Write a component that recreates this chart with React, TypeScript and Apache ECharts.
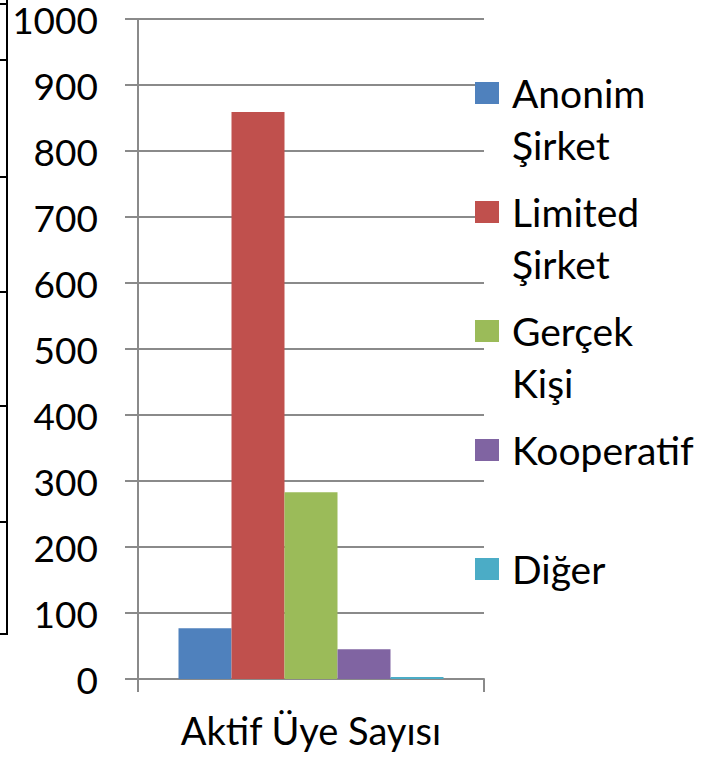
import React, { useEffect, useRef } from 'react';
import * as echarts from 'echarts';

const categories = ['Aktif Üye Sayısı'];
const seriesNames = ['Anonim Şirket', 'Limited Şirket', 'Gerçek Kişi', 'Kooperatif', 'Diğer'];
const legendLines = [['Anonim', 'Şirket'], ['Limited', 'Şirket'], ['Gerçek', 'Kişi'], ['Kooperatif'], ['Diğer']];
const seriesValues = [77, 859, 283, 45, 3];
const seriesColors = ['#4F81BD', '#C0504D', '#9BBB59', '#8064A2', '#4BACC6'];
const yMin = 0;
const yMax = 1000;
const yInterval = 100;

const FONT = 'Lato';
const GRID_COLOR = '#8a8a8a';

export default function App() {
  const ref = useRef<HTMLDivElement>(null);
  useEffect(() => {
    if (!ref.current) return;
    const chart = echarts.init(ref.current, null, { renderer: 'svg' });

    const LH = 52;
    const legends = seriesNames.map((name, i) => ({
      data: [{ name, icon: 'rect' }],
      orient: 'vertical',
      left: 475,
      top: 93 + 119 * i - 1.5 * LH,
      padding: 0,
      itemWidth: 24,
      itemHeight: 22,
      selectedMode: false,
      formatter: () => ['\u00a0', legendLines[i][0], legendLines[i][1] ?? '\u00a0'].join('\n'),
      textStyle: {
        fontFamily: FONT,
        fontSize: 39,
        lineHeight: LH,
        color: '#000',
        padding: [0, 0, 0, 8],
      },
    }));

    const sideY = [4, 60, 177, 292, 406, 522, 634];
    const graphics: any[] = [
      {
        type: 'line',
        shape: { x1: 7, y1: 0, x2: 7, y2: 635 },
        style: { stroke: '#000', lineWidth: 2 },
        silent: true,
      },
      ...sideY.map((y) => ({
        type: 'line',
        shape: { x1: 0, y1: y, x2: 8, y2: y },
        style: { stroke: '#000', lineWidth: 2 },
        silent: true,
      })),
    ];

    chart.setOption({
      animation: false,
      backgroundColor: '#fff',
      grid: { left: 138, right: 225, top: 19, bottom: 80, containLabel: false },
      legend: legends,
      graphic: graphics,
      xAxis: {
        type: 'category',
        data: categories,
        boundaryGap: true,
        axisLine: { show: true, lineStyle: { color: GRID_COLOR, width: 2 } },
        axisTick: { show: true, length: 13, lineStyle: { color: GRID_COLOR, width: 2 } },
        axisLabel: { fontFamily: FONT, fontSize: 38, color: '#000', margin: 32 },
      },
      yAxis: {
        type: 'value',
        min: yMin,
        max: yMax,
        interval: yInterval,
        axisLine: { show: true, lineStyle: { color: GRID_COLOR, width: 2 } },
        axisTick: { show: true, length: 13, lineStyle: { color: GRID_COLOR, width: 2 } },
        splitLine: { show: true, lineStyle: { color: GRID_COLOR, width: 2 } },
        axisLabel: {
          fontFamily: FONT,
          fontSize: 37,
          lineHeight: 30,
          color: '#000',
          margin: 40,
          formatter: (v: number) => String(v),
        },
      },
      series: seriesNames.map((name, i) => ({
        type: 'bar',
        name,
        data: [seriesValues[i]],
        barWidth: 53,
        barGap: '0%',
        itemStyle: { color: seriesColors[i] },
      })),
    });
    return () => chart.dispose();
  }, []);
  return (
    <div
      ref={ref}
      style={{ position: 'absolute', left: 0, top: 0, width: 709, height: 759 }}
    />
  );
}
